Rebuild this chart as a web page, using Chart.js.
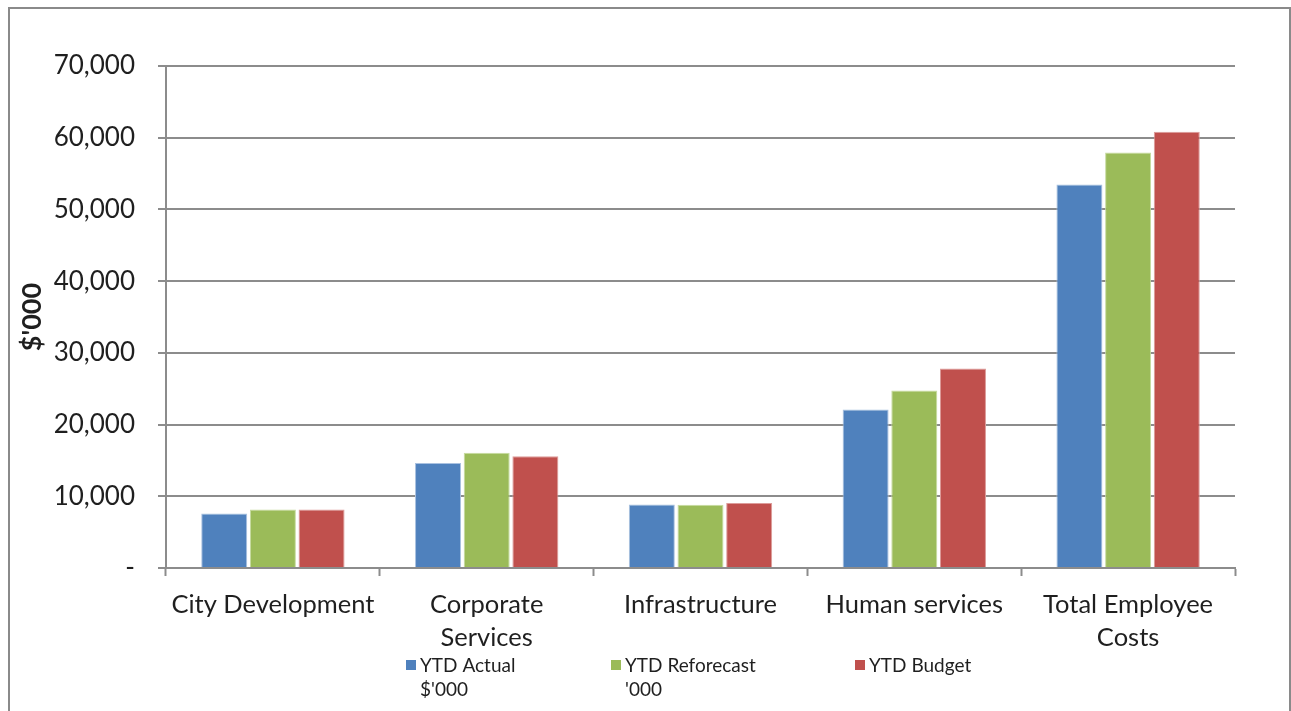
<!DOCTYPE html>
<html>
<head>
<meta charset="utf-8">
<title>Employee costs by division</title>
<script src="https://cdn.jsdelivr.net/npm/chart.js@4"></script>
<style>
  html, body { margin: 0; padding: 0; background: #ffffff; }
  canvas { display: block; }
</style>
</head>
<body>
<canvas id="chart" width="1291" height="711"></canvas>
<script>
// Divisions on the category axis (multi-line where the label wraps)
const categories = [
  'City Development',
  ['Corporate', 'Services'],
  'Infrastructure',
  'Human services',
  ['Total Employee', 'Costs']
];

// Year-to-date figures, $'000
const ytdActual     = [7600, 14650, 8870, 22090, 53490];
const ytdReforecast = [8170, 16060, 8830, 24740, 57950];
const ytdBudget     = [8170, 15590, 9060, 27810, 60840];

// Legend entries (two-line labels)
const seriesLabels = [
  ['YTD Actual', "$'000"],
  ['YTD Reforecast', "'000"],
  ['YTD Budget']
];

// Value axis settings
const yMin = 0;
const yMax = 70000;
const yStep = 10000;
const yTitle = "$'000";

const FONT = "Lato, 'Open Sans', 'DejaVu Sans', sans-serif";
const GRID = '#8c8c8c';
const TEXT = '#1f1f1f';

const colors = ['#4f81bd', '#9bbb59', '#c0504d'];
const edges  = ['#a9c1e0', '#c6dba0', '#dd9c9a'];

// Outer frame around the whole chart
const framePlugin = {
  id: 'frame',
  beforeDraw(chart) {
    const ctx = chart.ctx;
    ctx.save();
    ctx.fillStyle = '#ffffff';
    ctx.fillRect(0, 0, chart.width, chart.height);
    ctx.strokeStyle = '#8a8a8a';
    ctx.lineWidth = 2;
    ctx.strokeRect(9, 8, chart.width - 10, chart.height + 20);
    ctx.restore();
  }
};

// Legend drawn below the axis, one column per series, labels on two lines
const bottomLegend = {
  id: 'bottomLegend',
  afterDraw(chart) {
    const ctx = chart.ctx;
    const starts = [406, 611, 855];
    const top = 660;
    ctx.save();
    ctx.font = '19px ' + FONT;
    ctx.textBaseline = 'alphabetic';
    ctx.textAlign = 'left';
    chart.data.datasets.forEach((ds, i) => {
      const x = starts[i];
      ctx.fillStyle = ds.backgroundColor;
      ctx.fillRect(x, top, 10, 10);
      ctx.fillStyle = TEXT;
      seriesLabels[i].forEach((line, j) => {
        ctx.fillText(line, x + 14, top + 12 + j * 24);
      });
    });
    ctx.restore();
  }
};

const datasets = [ytdActual, ytdReforecast, ytdBudget].map((values, i) => ({
  label: seriesLabels[i].join(' '),
  data: values,
  backgroundColor: colors[i],
  borderColor: edges[i],
  borderWidth: 1,
  categoryPercentage: 0.683,
  barPercentage: 0.945
}));

new Chart(document.getElementById('chart'), {
  type: 'bar',
  data: { labels: categories, datasets },
  plugins: [framePlugin, bottomLegend],
  options: {
    responsive: false,
    animation: false,
    events: [],
    layout: { padding: { left: 10, right: 56, top: 66, bottom: 50 } },
    plugins: {
      legend: { display: false },
      tooltip: { enabled: false },
      title: { display: false }
    },
    scales: {
      x: {
        afterFit(scale) { scale.height = 711 - 568 - 50; },
        grid: {
          display: true,
          offset: true,
          drawOnChartArea: false,
          drawTicks: true,
          tickLength: 8,
          tickColor: GRID,
          tickWidth: 2
        },
        border: { display: true, color: GRID, width: 2 },
        ticks: {
          color: TEXT,
          font: { family: FONT, size: 25.5, lineHeight: 1.3 },
          padding: 12,
          maxRotation: 0,
          autoSkip: false
        }
      },
      y: {
        min: yMin,
        max: yMax,
        afterFit(scale) { scale.width = 166 - 10; },
        grid: {
          color: GRID,
          lineWidth: 2,
          drawTicks: true,
          tickLength: 8,
          tickColor: GRID,
          tickWidth: 2
        },
        border: { display: true, color: GRID, width: 2 },
        ticks: {
          stepSize: yStep,
          color: TEXT,
          font: { family: FONT, size: 26 },
          padding: 23,
          callback: (v) => v === 0 ? '-' : Number(v).toLocaleString('en-US')
        },
        title: {
          display: true,
          text: yTitle,
          color: TEXT,
          font: { family: FONT, size: 27, weight: 'bold' },
          padding: { top: 6, bottom: 0 }
        }
      }
    }
  }
});
</script>
</body>
</html>
